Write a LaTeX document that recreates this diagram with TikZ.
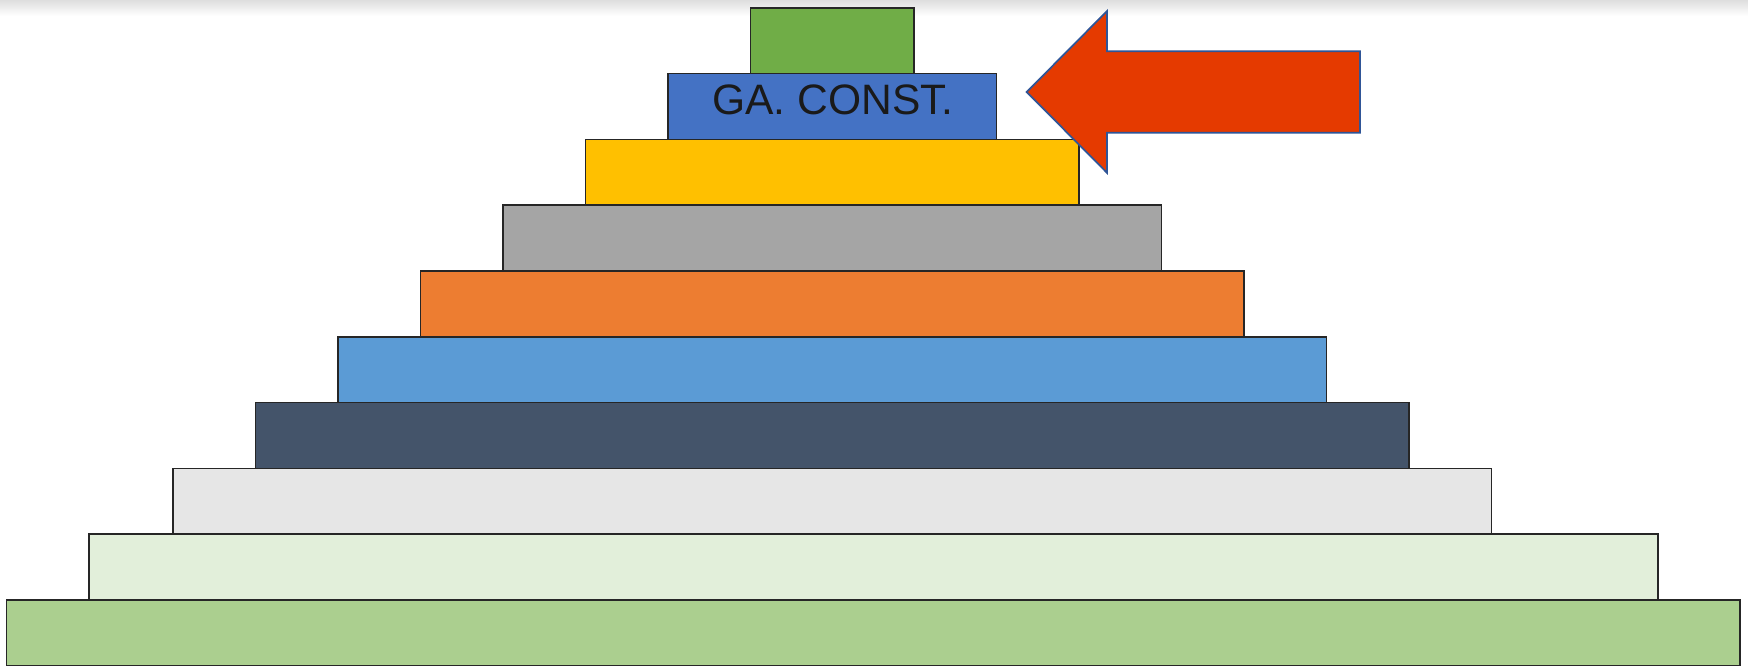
\documentclass[tikz,border=0pt]{standalone}
\usepackage{fontspec}
\setmainfont{Liberation Sans}
\definecolor{lvlA}{HTML}{70AD47}
\definecolor{lvlB}{HTML}{4472C4}
\definecolor{lvlC}{HTML}{FFC000}
\definecolor{lvlD}{HTML}{A5A5A5}
\definecolor{lvlE}{HTML}{ED7D31}
\definecolor{lvlF}{HTML}{5B9BD5}
\definecolor{lvlG}{HTML}{44546A}
\definecolor{lvlH}{HTML}{E6E6E6}
\definecolor{lvlI}{HTML}{E2EFDA}
\definecolor{lvlJ}{HTML}{ABCF8F}
\definecolor{arrowred}{HTML}{E53A00}
\definecolor{arrowedge}{HTML}{2F5597}
\definecolor{labeltext}{HTML}{1A1A1A}

\begin{document}
\begin{tikzpicture}[x=0.01cm, y=-0.01cm,
    level/.style={draw=black!85, line width=0.45pt},
    pointer/.style={draw=arrowedge, line width=0.5pt, fill=arrowred}]
  \useasboundingbox (0,0) rectangle (1748,668);
  \shade[top color=black!13, bottom color=white] (0,0) rectangle (1748,16);
  % the steps of the pyramid, top down
  \foreach \k/\col in {0/lvlA, 1/lvlB, 2/lvlC, 3/lvlD, 4/lvlE, 5/lvlF, 6/lvlG, 7/lvlH}
    \draw[level, fill=\col] ({750.3-82.5*\k}, {7.8+65.8*\k}) rectangle ({914.1+82.5*\k}, {73.6+65.8*\k});
  \draw[level, fill=lvlI] (89.2,534) rectangle (1657.7,599.8);
  \draw[level, fill=lvlJ] (6.7,599.8) rectangle (1740.2,665.5);
  \node[text=labeltext, inner sep=0pt, font=\fontsize{12.1}{15}\selectfont] (gaconst) at (833,99.5)
    {GA. CONST.};
  % big arrow pointing at the blue step
  \draw[pointer] (1026.7,92) -- (1107,11.1) -- (1107,51.3) -- (1360.1,51.3)
    -- (1360.1,132.7) -- (1107,132.7) -- (1107,172.8) -- cycle;
\end{tikzpicture}
\end{document}
